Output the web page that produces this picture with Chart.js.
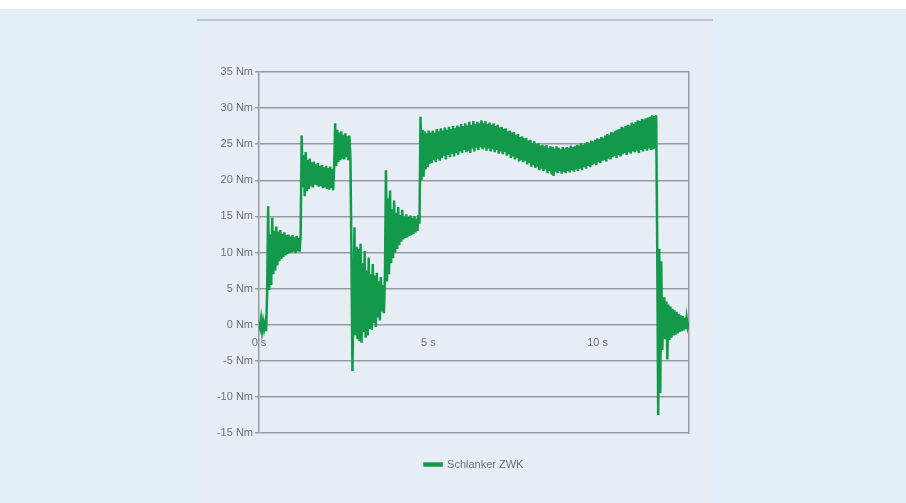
<!DOCTYPE html>
<html>
<head>
<meta charset="utf-8">
<script src="https://cdn.jsdelivr.net/npm/chart.js@4"></script>
<style>
  html, body { margin: 0; padding: 0; }
  body {
    width: 906px; height: 503px; position: relative; overflow: hidden;
    background: #e3eff8;
    font-family: "Liberation Sans", Arial, sans-serif;
  }
  #topband { position: absolute; left: 0; top: 0; width: 906px; height: 9px; background: #ffffff; }
  #panel {
    position: absolute; left: 197px; top: 19px; width: 516px; height: 484px;
    background: #e7edf4; border-top: 2px solid #bcc4cc;
  }
  #box { position: absolute; left: 199px; top: 60px; width: 550px; height: 420px; }
</style>
</head>
<body>
<div id="topband"></div>
<div id="panel"></div>
<div id="box"><canvas id="c"></canvas></div>
<script>
// Torque measurement, one sample every SAMPLE_STEP seconds
const SERIES_NAME = 'Schlanker ZWK';
const SAMPLE_STEP = 0.03; // s
const TORQUE = [
  0.5, -0.3, 0.8, -0.8, 0.4, -0.6, 0.2, -0.9, 4.5, 16.4,
  4.8, 12.5, 5.5, 14.8, 7.0, 13.0, 7.5, 13.6, 8.2, 12.9,
  8.8, 13.1, 9.1, 12.6, 9.4, 12.8, 9.6, 12.4, 9.8, 12.5,
  9.9, 12.2, 10.0, 12.4, 10.1, 12.1, 9.9, 12.3, 10.2, 12.0,
  10.1, 12.4, 26.2, 19.0, 23.5, 17.8, 23.9, 18.5, 22.8, 18.8,
  23.0, 19.2, 22.5, 19.0, 22.6, 19.4, 22.2, 19.3, 22.4, 19.1,
  22.0, 19.2, 22.1, 18.9, 21.8, 19.0, 22.0, 18.8, 21.7, 18.7,
  21.9, 18.9, 21.6, 18.6, 21.8, 27.9, 22.0, 27.0, 22.5, 26.6,
  22.8, 26.8, 23.0, 26.3, 22.9, 26.5, 23.2, 26.1, 22.8, 26.2,
  23.0, 10.0, -6.4, 4.0, 13.5, -1.5, 10.8, -2.0, 10.5, -2.3,
  11.2, -2.5, 8.5, -1.0, 10.2, -1.8, 7.5, -1.5, 9.3, -0.6,
  7.0, -0.7, 8.4, 0.2, 6.8, -0.3, 7.2, 1.0, 6.0, 0.6,
  6.6, 1.8, 5.5, 1.6, 7.0, 21.4, 6.0, 17.5, 7.0, 18.6,
  8.5, 16.0, 9.2, 17.2, 10.0, 15.5, 10.5, 16.3, 11.0, 15.2,
  11.5, 15.9, 11.8, 15.0, 12.0, 15.3, 12.1, 14.9, 12.3, 15.1,
  12.4, 14.8, 12.6, 15.0, 12.8, 14.7, 13.0, 15.2, 14.0, 28.8,
  20.0, 27.0, 20.5, 26.8, 21.5, 26.5, 21.8, 26.9, 22.3, 26.6,
  22.4, 26.9, 22.8, 26.6, 22.5, 27.1, 23.0, 26.8, 22.7, 27.2,
  23.1, 26.9, 23.4, 27.3, 22.9, 27.0, 23.5, 27.4, 23.2, 27.1,
  23.7, 27.5, 23.3, 27.2, 23.8, 27.6, 23.5, 27.4, 24.0, 27.8,
  23.8, 27.5, 24.2, 27.9, 23.9, 27.6, 24.1, 28.1, 23.8, 27.7,
  24.4, 28.2, 24.0, 27.8, 24.5, 28.1, 24.2, 27.9, 24.6, 28.3,
  24.3, 27.9, 24.5, 28.2, 24.1, 27.8, 24.4, 28.0, 24.0, 27.7,
  24.3, 27.9, 23.9, 27.5, 24.2, 27.7, 23.7, 27.3, 24.0, 27.4,
  23.6, 27.1, 23.9, 27.2, 23.4, 26.8, 23.6, 26.9, 23.1, 26.6,
  23.3, 26.7, 22.9, 26.3, 23.1, 26.4, 22.6, 26.0, 22.8, 26.1,
  22.5, 25.8, 22.7, 25.9, 22.2, 25.5, 22.4, 25.6, 21.9, 25.2,
  22.1, 25.4, 21.7, 25.0, 21.9, 25.1, 21.4, 24.8, 21.6, 24.9,
  21.3, 24.7, 21.5, 24.9, 21.0, 24.5, 21.3, 24.7, 20.8, 24.6,
  20.6, 24.4, 21.2, 24.7, 21.0, 24.5, 21.3, 24.3, 20.9, 24.6,
  21.2, 24.4, 21.0, 24.6, 21.3, 24.5, 21.1, 24.8, 21.4, 24.6,
  21.2, 24.7, 21.5, 24.9, 21.3, 24.8, 21.6, 25.1, 21.4, 24.9,
  21.8, 25.1, 21.6, 25.3, 22.0, 25.2, 21.8, 25.5, 22.1, 25.4,
  22.3, 25.6, 22.1, 25.8, 22.5, 25.7, 22.4, 26.0, 22.7, 25.9,
  22.8, 26.2, 22.6, 26.4, 23.0, 26.3, 22.9, 26.7, 23.2, 26.6,
  23.4, 26.9, 23.1, 27.0, 23.5, 27.1, 23.3, 27.4, 23.6, 27.3,
  23.8, 27.5, 23.5, 27.7, 23.9, 27.6, 23.7, 28.0, 24.0, 27.8,
  23.9, 28.1, 24.1, 28.3, 23.8, 28.2, 24.2, 28.5, 24.0, 28.4,
  24.3, 28.6, 24.1, 28.7, 24.4, 28.8, 24.2, 29.0, 24.3, 28.9,
  24.4, 29.0, 12.0, -12.5, 10.5, -9.5, 8.8, -3.5, 1.0, 3.8,
  -2.0, 3.2, -4.8, 2.8, -2.1, 2.5, -1.8, 2.2, -1.5, 2.0,
  -1.4, 1.8, -1.2, 1.5, -1.0, 1.3, -0.9, 1.2, -0.8, 1.0,
  -0.6, 0.9, -0.3, 0.3
];

const X_TICKS = [0, 5, 10];
const X_TICK_LABELS = ['0 s', '5 s', '10 s'];
const X_MAX = 12.7;
const Y_TICKS = [-15, -10, -5, 0, 5, 10, 15, 20, 25, 30, 35];
const Y_UNIT = 'Nm';

const GREEN = '#12994a';
const GRID = '#959ba1';
const TEXT = '#6c7176';

Chart.defaults.font.family = '"Liberation Sans", Arial, sans-serif';
Chart.defaults.font.size = 11;
Chart.defaults.color = TEXT;

const points = TORQUE.map((v, i) => ({ x: +(i * SAMPLE_STEP).toFixed(2), y: v }));

new Chart(document.getElementById('c'), {
  type: 'line',
  data: {
    datasets: [{
      label: SERIES_NAME,
      data: points,
      borderColor: GREEN,
      backgroundColor: GREEN,
      borderWidth: 2.5,
      pointRadius: 0,
      tension: 0,
      fill: false
    }]
  },
  options: {
    responsive: true,
    maintainAspectRatio: false,
    animation: false,
    layout: { padding: { top: 12, left: 0, right: 0, bottom: 0 } },
    plugins: {
      legend: {
        position: 'bottom',
        labels: { boxWidth: 17, boxHeight: 2, padding: 26, color: TEXT, font: { size: 11 } }
      },
      tooltip: { enabled: false }
    },
    scales: {
      x: {
        type: 'linear',
        min: 0,
        max: X_MAX,
        position: { y: 0 },
        grid: { display: false, drawTicks: false },
        border: { display: false },
        afterBuildTicks: s => { s.ticks = X_TICKS.map(v => ({ value: v })); },
        ticks: {
          padding: 12,
          maxRotation: 0,
          autoSkip: false,
          callback: (v, i) => X_TICK_LABELS[i]
        }
      },
      y: {
        min: -15,
        max: 35,
        afterBuildTicks: s => { s.ticks = Y_TICKS.map(v => ({ value: v })); },
        afterFit: s => { s.width = 60; },
        grid: { color: GRID, lineWidth: 1.5, tickLength: 4 },
        border: { color: GRID, width: 1.5 },
        ticks: { padding: 2, callback: v => v + ' ' + Y_UNIT }
      },
      y2: {
        position: 'right',
        min: -15,
        max: 35,
        grid: { display: false, drawTicks: false },
        border: { color: GRID, width: 1.5 },
        ticks: { display: false },
        afterFit: s => { s.width = 60; }
      }
    }
  }
});
</script>
</body>
</html>
